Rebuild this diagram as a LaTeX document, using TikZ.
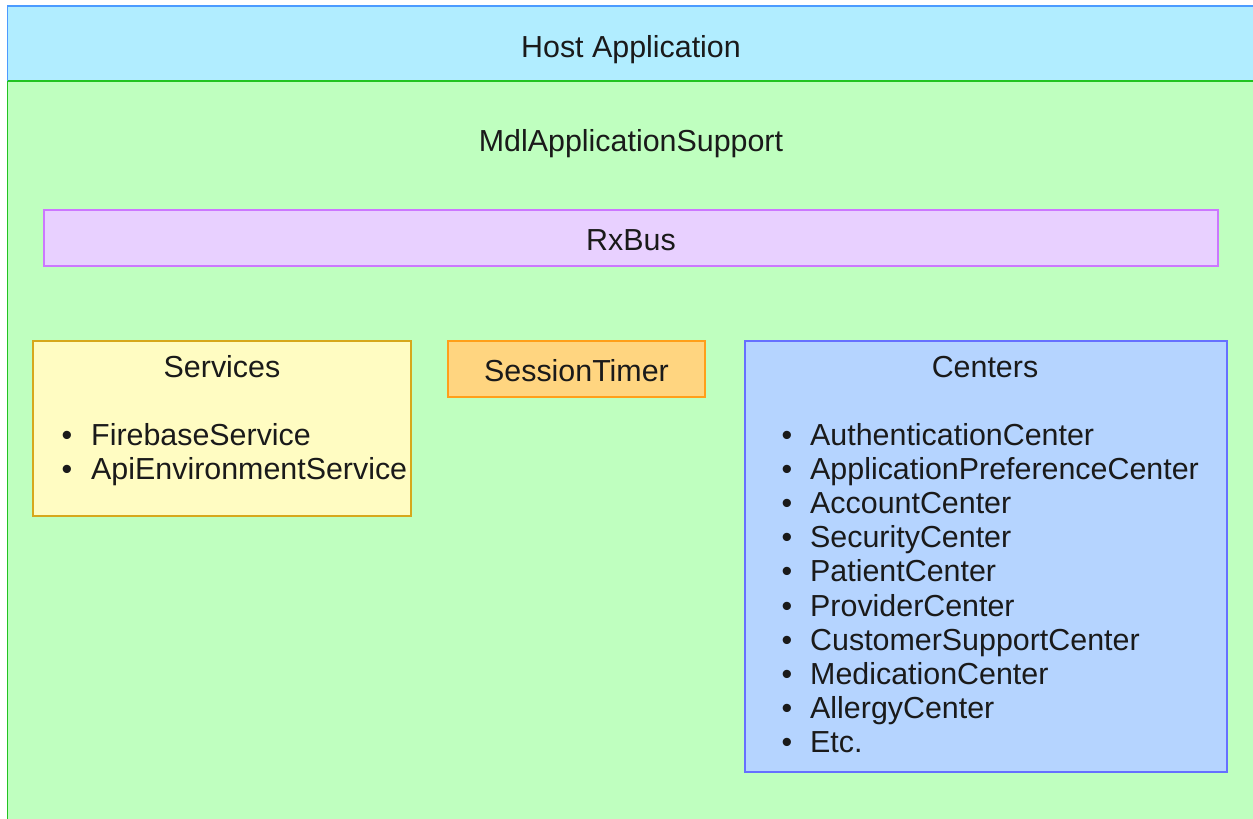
\documentclass[tikz,border=0pt]{standalone}
\usepackage{fontspec}
\setmainfont{Liberation Sans}
\definecolor{hostfill}{HTML}{B1EDFF}
\definecolor{hostdraw}{HTML}{4C9BFF}
\definecolor{mdlfill}{HTML}{BFFFBF}
\definecolor{mdldraw}{HTML}{22C322}
\definecolor{busfill}{HTML}{E8D0FF}
\definecolor{busdraw}{HTML}{CC77FF}
\definecolor{svcfill}{HTML}{FFFCC2}
\definecolor{svcdraw}{HTML}{D6A81C}
\definecolor{sesfill}{HTML}{FFD580}
\definecolor{sesdraw}{HTML}{FF9F1A}
\definecolor{cenfill}{HTML}{B5D4FF}
\definecolor{cendraw}{HTML}{6670FF}
\definecolor{txt}{HTML}{1A1A1A}
\begin{document}
\begin{tikzpicture}[x=1pt,y=-1pt,
  every node/.style={font=\fontsize{30.4}{34}\selectfont, text=txt, inner sep=0pt},
  boxed/.style={draw, line width=1.3pt, rectangle, inner sep=0pt},
  lbl/.style={anchor=base},
  item/.style={anchor=base west}]
\useasboundingbox (0,0) rectangle (1253,819);
\clip (0,0) rectangle (1253,819);
% frames
\fill[mdlfill] (7.5,81) rectangle (1270,840);
\draw[mdldraw, line width=1.6pt] (7.5,840) -- (7.5,81) -- (1270,81);
\fill[hostfill] (7.5,6) rectangle (1270,81);
\draw[hostdraw, line width=1.6pt] (7.5,81) -- (7.5,6) -- (1270,6);
\draw[mdldraw, line width=1.6pt] (7.5,81) -- (1270,81);
\node[lbl] (host) at (631,57) {Host Application};
\node[lbl] (mdl) at (631,151) {MdlApplicationSupport};
% RxBus
\node[boxed, draw=busdraw, fill=busfill, minimum width=1174pt, minimum height=56pt] (bus) at (631,238) {};
\node[lbl] (bustxt) at (631,250) {RxBus};
% Services
\node[boxed, draw=svcdraw, fill=svcfill, minimum width=378pt, minimum height=175pt] (svc) at (222,428.5) {};
\node[lbl] (svctitle) at (222,377) {Services};
\node[anchor=base] (sb1) at (67,445) {\textbullet};
\node[item] (s1) at (91,445) {FirebaseService};
\node[anchor=base] (sb2) at (67,479) {\textbullet};
\node[item] (s2) at (91,479) {ApiEnvironmentService};
% SessionTimer
\node[boxed, draw=sesdraw, fill=sesfill, minimum width=257pt, minimum height=56pt] (ses) at (576.5,369) {};
\node[lbl] (sestxt) at (576.5,381) {SessionTimer};
% Centers
\node[boxed, draw=cendraw, fill=cenfill, minimum width=482pt, minimum height=431pt] (cen) at (986,556.5) {};
\node[lbl] (centitle) at (985,377) {Centers};
\foreach \t [count=\i from 0] in {AuthenticationCenter,ApplicationPreferenceCenter,AccountCenter,SecurityCenter,PatientCenter,ProviderCenter,CustomerSupportCenter,MedicationCenter,AllergyCenter,Etc.}{
  \node[anchor=base] (cb\i) at (787,445+34.2*\i) {\textbullet};
  \node[item] (c\i) at (810,445+34.2*\i) {\t};
}
\end{tikzpicture}
\end{document}
